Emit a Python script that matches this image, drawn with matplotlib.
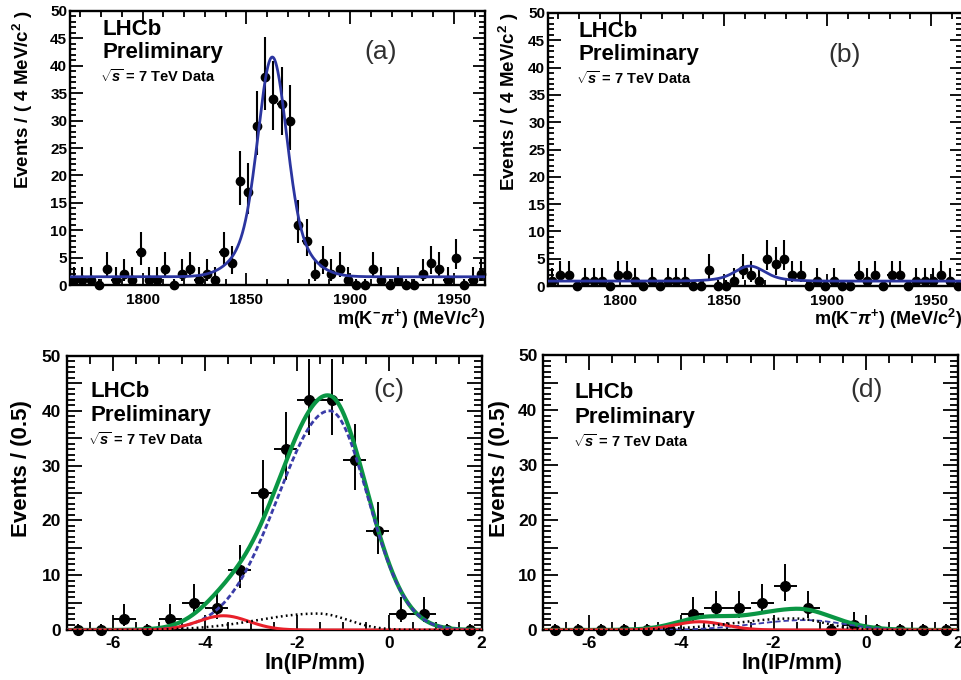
import numpy as np
import matplotlib
matplotlib.use("Agg")
import matplotlib.pyplot as plt
from matplotlib.ticker import MultipleLocator, FuncFormatter

plt.rcParams["font.family"] = ["Liberation Sans", "DejaVu Sans"]
plt.rcParams["font.weight"] = "bold"
plt.rcParams["mathtext.fontset"] = "custom"
plt.rcParams["mathtext.rm"] = "Liberation Sans:bold"
plt.rcParams["mathtext.bf"] = "Liberation Sans:bold"
plt.rcParams["mathtext.it"] = "Liberation Sans:bold:italic"
plt.rcParams["mathtext.sf"] = "Liberation Sans:bold"

# ---------------- data ----------------
# D0 candidate mass, 4 MeV/c^2 bins between 1765 and 1965 MeV/c^2
mass_lo, mass_hi, mass_bin = 1765.0, 1965.0, 4.0
counts_a = [1, 1, 1, 0, 3, 1, 2, 1, 6, 1,
            1, 3, 0, 2, 3, 1, 2, 1, 6, 4,
            19, 17, 29, 38, 34, 33, 30, 11, 8, 2,
            4, 2, 3, 1, 0, 0, 3, 1, 0, 1,
            0, 0, 2, 4, 3, 1, 5, 0, 1, 2]
counts_b = [1, 2, 2, 0, 1, 1, 1, 0, 2, 2,
            1, 0, 1, 0, 1, 1, 1, 0, 0, 3,
            0, 0, 1, 3, 2, 1, 5, 4, 5, 2,
            2, 0, 1, 0, 1, 0, 0, 2, 1, 2,
            0, 2, 2, 0, 1, 1, 1, 2, 1, 0]

# ln(IP/mm), 0.5 wide bins between -7 and 2
ip_lo, ip_hi, ip_bin = -7.0, 2.0, 0.5
counts_c = [0, 0, 2, 0, 2, 5, 4, 11, 25, 33, 42, 42, 31, 18, 3, 3, 0, 0]
counts_d = [0, 0, 0, 0, 0, 0, 3, 4, 4, 5, 8, 4, 0, 1, 0, 0, 0, 0]

# mass fit: double Gaussian signal on a flat background
mass_mean, mass_sigma1, mass_sigma2, mass_core = 1862.5, 6.5, 13.0, 0.75
peak_a, bkg_a = 40.1, 1.5
peak_b, bkg_b = 2.75, 0.9

# ln(IP) fit components: (mean, left sigma, right sigma)
prompt_shape = (-3.60, 0.55, 0.55)
main_shape = (-1.30, 1.12, 0.83)
broad_shape = (-1.55, 1.30, 0.65)
amps_c = {"prompt": 2.6, "main": 40.0, "broad": 3.0}
amps_d = {"prompt": 1.5, "main": 1.8, "broad": 2.1}

# ---------------- helpers ----------------
W, H = 961.0, 680.0
fig = plt.figure(figsize=(W / 100, H / 100), dpi=100)
fig.patch.set_facecolor("white")


def add_axes_px(left, top, right, bottom):
    return fig.add_axes([left / W, 1 - bottom / H, (right - left) / W, (bottom - top) / H])


def ftext(x, y, s, **kw):
    fig.text(x / W, 1 - y / H, s, **kw)


def poisson_errors(n):
    n = np.asarray(n, dtype=float)
    up = np.sqrt(n + 0.75) + 1.0
    with np.errstate(divide="ignore", invalid="ignore"):
        low = n - n * (1 - 1 / (9 * n) - 1 / (3 * np.sqrt(n))) ** 3
    low = np.where(n > 0, low, 0.0)
    up = np.where(n > 0, up, 1.148)
    return low, up


def bifur(x, shape):
    mu, sl, sr = shape
    s = np.where(x < mu, sl, sr)
    return np.exp(-0.5 * ((x - mu) / s) ** 2)


def style_axes(ax, xmaj, xmin, ymaj, ymin, lab_size, maj_len, min_len, ylab_step):
    ax.xaxis.set_major_locator(MultipleLocator(xmaj))
    ax.xaxis.set_minor_locator(MultipleLocator(xmin))
    ax.yaxis.set_major_locator(MultipleLocator(ymaj))
    ax.yaxis.set_minor_locator(MultipleLocator(ymin))
    ax.yaxis.set_major_formatter(
        FuncFormatter(lambda v, p: f"{v:.0f}" if abs(v / ylab_step - round(v / ylab_step)) < 1e-6 else ""))
    ax.xaxis.set_major_formatter(FuncFormatter(lambda v, p: f"{v:.0f}"))
    ax.tick_params(which="both", direction="in", top=True, right=True, width=1.3,
                   labelsize=lab_size)
    ax.tick_params(which="major", length=maj_len)
    ax.tick_params(which="minor", length=min_len)
    for lab in ax.get_xticklabels() + ax.get_yticklabels():
        lab.set_fontweight("bold")
    for sp in ax.spines.values():
        sp.set_linewidth(1.7)


def draw_data(ax, centers, counts, half, ms, lw):
    lo, up = poisson_errors(counts)
    ax.errorbar(centers, counts, yerr=[lo, up], xerr=half, fmt="o", color="black",
                ms=ms, elinewidth=lw, capsize=0, clip_on=False, zorder=3)


def label_block(x, y_lhcb, y_prel, y_sqrt, x_sqrt, big, small):
    ftext(x, y_lhcb, "LHCb", fontsize=big, fontweight="bold", va="baseline")
    ftext(x, y_prel, "Preliminary", fontsize=big, fontweight="bold", va="baseline")
    ftext(x_sqrt, y_sqrt, r"$\sqrt{s}$ = 7 TeV Data", fontsize=small, fontweight="bold",
          va="baseline")


mass_centers = np.arange(mass_lo + mass_bin / 2, mass_hi, mass_bin)
ip_centers = np.arange(ip_lo + ip_bin / 2, ip_hi, ip_bin)
mass_grid = np.linspace(mass_lo, mass_hi, 800)
ip_grid = np.linspace(ip_lo, ip_hi, 800)


def mass_model(x, peak, bkg):
    core = np.exp(-0.5 * ((x - mass_mean) / mass_sigma1) ** 2)
    wide = np.exp(-0.5 * ((x - mass_mean) / mass_sigma2) ** 2)
    return bkg + peak * (mass_core * core + (1 - mass_core) * wide)


blue_solid = "#2b35a0"
green = "#0a9644"
red = "#e8202a"
blue_dash = "#3a3ca8"
mass_label = r"m(K$^{-}$$\pi^{+}$) (MeV/c$^{2}$)"

# ---------------- panels (a) and (b): mass ----------------
for (left, top, right, bottom, counts, peak, bkg, ylx, tag, tagxy, lx, blk) in [
    (70, 11, 485, 285, counts_a, peak_a, bkg_a, 23, "(a)", (381, 52), 485,
     (102, 35, 58, 82, 100)),
    (548, 13, 962, 286, counts_b, peak_b, bkg_b, 509, "(b)", (845, 55), 962,
     (579, 37, 60, 84, 576)),
]:
    ax = add_axes_px(left, top, right, bottom)
    ax.set_xlim(mass_lo, mass_hi)
    ax.set_ylim(0, 50)
    draw_data(ax, mass_centers, counts, mass_bin / 2, 6, 1.5)
    ax.plot(mass_grid, mass_model(mass_grid, peak, bkg), color=blue_solid, lw=2.0, zorder=4)
    style_axes(ax, 50, 10, 5, 1, 11, 9, 4.5, 5)
    ax.tick_params(axis="x", pad=6)
    ax.tick_params(axis="y", pad=2)
    ftext(ylx, top - 1, r"Events / ( 4 MeV/c$^{2}$ )", rotation=90, ha="center", va="top",
          fontsize=13.5, fontweight="bold")
    ftext(lx, 319, mass_label, ha="right", va="center", fontsize=13, fontweight="bold")
    ftext(tagxy[0], tagxy[1], tag, ha="center", va="center", fontsize=19,
          fontweight="normal", color="#303030")
    x0, b1, b2, b3, xs = blk
    label_block(x0, b1, b2, b3, xs, 16, 10.5)

# ---------------- panels (c) and (d): ln(IP) ----------------
for (left, top, right, bottom, counts, amps, ylx, tag, tagxy, blk, dash_lw) in [
    (66.7, 356, 481.7, 630, counts_c, amps_c, 22, "(c)", (389, 390),
     (90, 397, 421, 445, 88), 2.0),
    (543, 355, 958, 630, counts_d, amps_d, 500, "(d)", (867, 390),
     (575, 398, 423, 447, 573), 1.3),
]:
    ax = add_axes_px(left, top, right, bottom)
    ax.set_xlim(ip_lo, ip_hi)
    ax.set_ylim(0, 50)
    draw_data(ax, ip_centers, counts, ip_bin / 2, 7, 1.4)
    prompt = amps["prompt"] * bifur(ip_grid, prompt_shape)
    main = amps["main"] * bifur(ip_grid, main_shape)
    broad = amps["broad"] * bifur(ip_grid, broad_shape)
    total = prompt + main + broad
    ax.plot(ip_grid, total, color=green, lw=3.0, zorder=4, solid_capstyle="butt")
    ax.plot(ip_grid, main, color=blue_dash, lw=dash_lw, zorder=5,
            linestyle=(0, (1.9, 1.0)) if dash_lw > 1.5 else (0, (3.0, 1.6)))
    ax.plot(ip_grid, prompt, color=red, lw=2.2, zorder=5)
    ax.plot(ip_grid, broad, color="black", lw=1.8, zorder=5, linestyle=(0, (0.7, 1.3)))
    style_axes(ax, 2, 0.5, 5, 1, 12.5, 11, 5.5, 10)
    ax.tick_params(axis="x", pad=4)
    ax.tick_params(axis="y", pad=4)
    ftext(ylx, 469, "Events / (0.5)", rotation=90, ha="center", va="center",
          fontsize=16, fontweight="bold")
    xl = left + 0.599 * (right - left)
    ftext(xl, 663, "ln(IP/mm)", ha="center", va="center", fontsize=16, fontweight="bold")
    ftext(tagxy[0], tagxy[1], tag, ha="center", va="center", fontsize=19,
          fontweight="normal", color="#303030")
    x0, b1, b2, b3, xs = blk
    label_block(x0, b1, b2, b3, xs, 16, 10.5)

fig.savefig("out.png", dpi=100, facecolor="white")
